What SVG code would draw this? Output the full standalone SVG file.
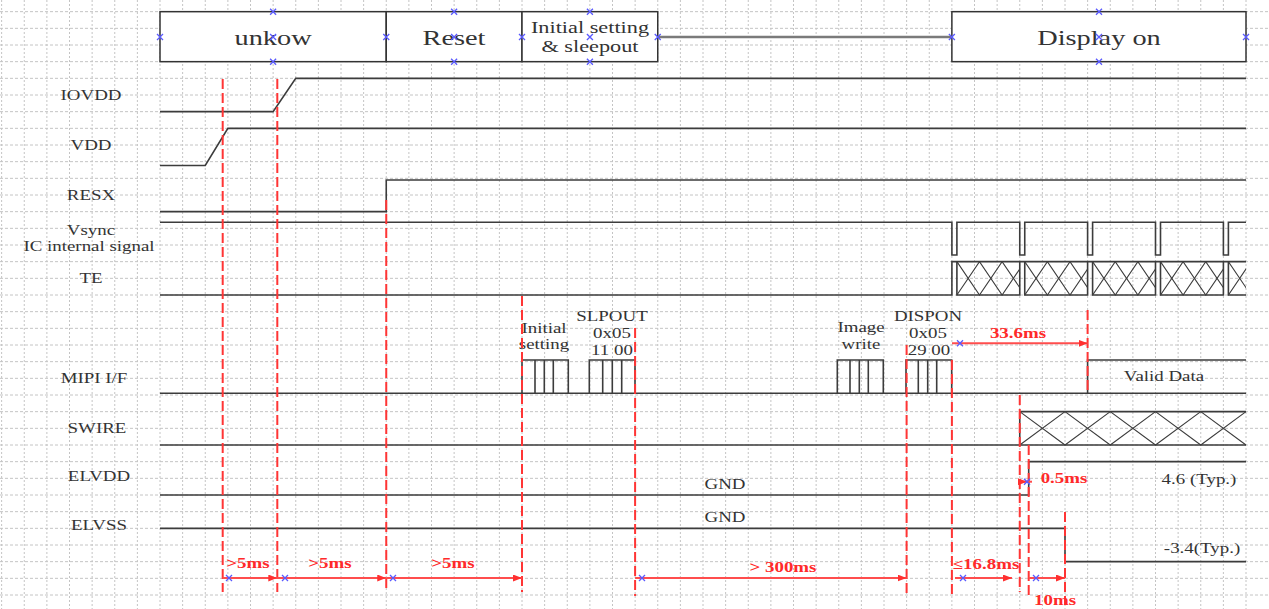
<svg xmlns="http://www.w3.org/2000/svg" width="1269" height="609" viewBox="0 0 1269 609">
<style>
.gh{fill:none;stroke:#c4c4c4;stroke-width:1;stroke-dasharray:3 2}
.gv{fill:none;stroke:#c4c4c4;stroke-width:1;stroke-dasharray:2 2}
.box{fill:#fff;stroke:#333;stroke-width:1.5}
.sig{fill:none;stroke:#3c3c3c;stroke-width:1.6}
.xp{fill:none;stroke:#3c3c3c;stroke-width:1.1}
.rd{fill:none;stroke:#ff3535;stroke-width:2;stroke-dasharray:10 4}
.dim{fill:none;stroke:#ff4d4d;stroke-width:2;marker-end:url(#ah)}
.t{font-family:"Liberation Serif","Times New Roman",serif;font-size:14px;fill:#333;text-anchor:middle}
.h{font-size:21px}
.hs{font-size:16.5px}
.r{fill:#ff2a2a;font-weight:bold}
.bx{fill:none;stroke:#5a5aff;stroke-width:1.3}
</style>
<defs>
<marker id="ah" markerWidth="9" markerHeight="7" refX="9" refY="3.5" orient="auto" markerUnits="userSpaceOnUse"><path d="M0 0L9 3.5L0 7z" fill="#ff3030"/></marker>
<path id="bm" d="M-3 -3L3 3M-3 3L3 -3"/>
<clipPath id="teclip"><rect x="956.9" y="261" width="62.9" height="35"/><rect x="1024.75" y="261" width="62.9" height="35"/><rect x="1092.6" y="261" width="62.9" height="35"/><rect x="1160.5" y="261" width="62.9" height="35"/><rect x="1228.4" y="261" width="17.6" height="35"/></clipPath>
</defs>
<rect width="1269" height="609" fill="#fff"/>
<g id="grid">
<path class="gh" d="M0 11.67H1269M0 28.33H1269M0 45H1269M0 61.67H1269M0 78.33H1269M0 95H1269M0 111.67H1269M0 128.33H1269M0 145H1269M0 161.67H1269M0 178.33H1269M0 195H1269M0 211.67H1269M0 228.33H1269M0 245H1269M0 261.67H1269M0 278.33H1269M0 295H1269M0 311.67H1269M0 328.33H1269M0 345H1269M0 361.67H1269M0 378.33H1269M0 395H1269M0 411.67H1269M0 428.33H1269M0 445H1269M0 461.67H1269M0 478.33H1269M0 495H1269M0 511.67H1269M0 528.33H1269M0 545H1269M0 561.67H1269M0 578.33H1269M0 595H1269"/>
<path class="gv" d="M1.63 0V609M24.25 0V609M46.88 0V609M69.5 0V609M92.13 0V609M114.75 0V609M137.38 0V609M160 0V609M182.63 0V609M205.25 0V609M227.88 0V609M250.5 0V609M273.13 0V609M295.75 0V609M318.38 0V609M341 0V609M363.63 0V609M386.25 0V609M408.88 0V609M431.5 0V609M454.13 0V609M476.75 0V609M499.38 0V609M522 0V609M544.63 0V609M567.25 0V609M589.88 0V609M612.5 0V609M635.13 0V609M657.75 0V609M680.38 0V609M703 0V609M725.63 0V609M748.25 0V609M770.88 0V609M793.5 0V609M816.13 0V609M838.75 0V609M861.38 0V609M884 0V609M906.63 0V609M929.25 0V609M951.88 0V609M974.5 0V609M997.13 0V609M1019.75 0V609M1042.38 0V609M1065 0V609M1087.63 0V609M1110.25 0V609M1132.88 0V609M1155.5 0V609M1178.13 0V609M1200.75 0V609M1223.38 0V609M1246 0V609"/>
</g>
<g id="connectors">
<line x1="657.75" y1="37" x2="951.88" y2="37" stroke="#7a7a7a" stroke-width="2.5"/>
</g>
<g id="phase-unkow"><rect class="box" x="160" y="11.67" width="226.25" height="50"/><text class="t h" transform="translate(273.1 45) scale(1.35 1)">unkow</text></g>
<g id="phase-reset"><rect class="box" x="386.25" y="11.67" width="135.75" height="50"/><text class="t h" transform="translate(454 45) scale(1.35 1)">Reset</text></g>
<g id="phase-init"><rect class="box" x="522" y="11.67" width="135.75" height="50"/><text class="t hs" transform="translate(590 33) scale(1.35 1)">Initial setting</text><text class="t hs" transform="translate(590 51.5) scale(1.35 1)">&amp; sleepout</text></g>
<g id="phase-display"><rect class="box" x="951.88" y="11.67" width="294.12" height="50"/><text class="t h" transform="translate(1099 45) scale(1.35 1)">Display on</text></g>

<g id="labels">
<text class="t" transform="translate(91 100) scale(1.35 1)">IOVDD</text>
<text class="t" transform="translate(91 150) scale(1.35 1)">VDD</text>
<text class="t" transform="translate(91 200) scale(1.35 1)">RESX</text>
<text class="t" transform="translate(91 235) scale(1.35 1)">Vsync</text>
<text class="t" transform="translate(89 251) scale(1.35 1)">IC internal signal</text>
<text class="t" transform="translate(91 283) scale(1.35 1)">TE</text>
<text class="t" transform="translate(94 383) scale(1.35 1)">MIPI I/F</text>
<text class="t" transform="translate(97 433) scale(1.35 1)">SWIRE</text>
<text class="t" transform="translate(99 481) scale(1.35 1)">ELVDD</text>
<text class="t" transform="translate(99 530) scale(1.35 1)">ELVSS</text>
</g>

<g id="sig-iovdd"><polyline class="sig" points="160,111.67 273.1,111.67 295.75,78.33 1246,78.33"/></g>
<g id="sig-vdd"><polyline class="sig" points="160,165.5 205.25,165.5 227.88,128.33 1246,128.33"/></g>
<g id="sig-resx"><polyline class="sig" points="160,211.67 386.25,211.67 386.25,180 1246,180"/></g>
<g id="sig-vsync"><polyline class="sig" points="160,222.3 951.9,222.3 951.9,255 956.9,255 956.9,222.3 1019.75,222.3 1019.75,255 1024.75,255 1024.75,222.3 1087.6,222.3 1087.6,255 1092.6,255 1092.6,222.3 1155.5,222.3 1155.5,255 1160.5,255 1160.5,222.3 1223.4,222.3 1223.4,255 1228.4,255 1228.4,222.3 1246,222.3"/></g>
<g id="sig-te">
<polyline class="sig" points="160,295 951.9,295 951.9,261.67 1246,261.67"/>
<path class="sig" d="M956.9 261.67V295H1019.75V261.67M1024.75 261.67V295H1087.6V261.67M1092.6 261.67V295H1155.5V261.67M1160.5 261.67V295H1223.4V261.67M1228.4 261.67V295H1246"/>
<g clip-path="url(#teclip)">
<polyline class="xp" points="956.9,261.67 979.5,295 1002.1,261.67 1024.75,295 1047.4,261.67 1070,295 1092.6,261.67 1115.25,295 1137.9,261.67 1160.5,295 1183.1,261.67 1205.75,295 1228.4,261.67 1251,295"/>
<polyline class="xp" points="956.9,295 979.5,261.67 1002.1,295 1024.75,261.67 1047.4,295 1070,261.67 1092.6,295 1115.25,261.67 1137.9,295 1160.5,261.67 1183.1,295 1205.75,261.67 1228.4,295 1251,261.67"/>
</g>
</g>
<g id="sig-mipi">
<line class="sig" x1="160" y1="393.3" x2="1246" y2="393.3"/>
<path class="sig" d="M522 393.3V360H568.3V393.3M535 360V393.3M544.3 360V393.3M553.3 360V393.3"/>
<path class="sig" d="M589.3 393.3V360H635V393.3M602.7 360V393.3M612.3 360V393.3M621.7 360V393.3"/>
<path class="sig" d="M837.3 393.3V360H883.3V393.3M850 360V393.3M859.3 360V393.3M868.3 360V393.3"/>
<path class="sig" d="M906 393.3V360H951.7V393.3M918.3 360V393.3M927.7 360V393.3M936.7 360V393.3"/>
<polyline class="sig" points="1087.6,393.3 1087.6,360 1246,360"/>
<text class="t" transform="translate(544 333) scale(1.35 1)">Initial</text>
<text class="t" transform="translate(544 349) scale(1.35 1)">setting</text>
<text class="t" transform="translate(612 321) scale(1.35 1)">SLPOUT</text>
<text class="t" transform="translate(612 338) scale(1.35 1)">0x05</text>
<text class="t" transform="translate(612 354.5) scale(1.35 1)">11 00</text>
<text class="t" transform="translate(861 332) scale(1.35 1)">Image</text>
<text class="t" transform="translate(861 349) scale(1.35 1)">write</text>
<text class="t" transform="translate(928 321) scale(1.35 1)">DISPON</text>
<text class="t" transform="translate(928 338) scale(1.35 1)">0x05</text>
<text class="t" transform="translate(929 354.5) scale(1.35 1)">29 00</text>
<text class="t" transform="translate(1164 381) scale(1.35 1)">Valid Data</text>
</g>
<g id="sig-swire">
<polyline class="sig" points="160,445 1019.75,445 1019.75,411.67 1246,411.67"/>
<line class="sig" x1="1019.75" y1="445" x2="1246" y2="445"/>
<polyline class="xp" points="1019.75,411.67 1065,445 1110.25,411.67 1155.5,445 1200.75,411.67 1246,445"/>
<polyline class="xp" points="1019.75,445 1065,411.67 1110.25,445 1155.5,411.67 1200.75,445 1246,411.67"/>
</g>
<g id="sig-elvdd">
<polyline class="sig" points="160,495 1028.7,495 1028.7,461.67 1246,461.67"/>
<text class="t" transform="translate(725 488.5) scale(1.35 1)">GND</text>
<text class="t" transform="translate(1199 483.5) scale(1.35 1)">4.6 (Typ.)</text>
</g>
<g id="sig-elvss">
<polyline class="sig" points="160,528.33 1065,528.33 1065,561.67 1246,561.67"/>
<text class="t" transform="translate(725 522) scale(1.35 1)">GND</text>
<text class="t" transform="translate(1202 552.5) scale(1.35 1)">-3.4(Typ.)</text>
</g>

<g id="timing-marks">
<line class="rd" x1="222.7" y1="79" x2="222.7" y2="592"/>
<line class="rd" x1="277.3" y1="79" x2="277.3" y2="592"/>
<line class="rd" x1="386.25" y1="200" x2="386.25" y2="590"/>
<line class="rd" x1="522" y1="296" x2="522" y2="592"/>
<line class="rd" x1="635.1" y1="328" x2="635.1" y2="596"/>
<line class="rd" x1="906.6" y1="345" x2="906.6" y2="593"/>
<line class="rd" x1="951.9" y1="360" x2="951.9" y2="595"/>
<line class="rd" x1="1019.75" y1="395" x2="1019.75" y2="592"/>
<line class="rd" x1="1028.7" y1="445" x2="1028.7" y2="597"/>
<line class="rd" x1="1065" y1="512" x2="1065" y2="605"/>
<line class="rd" x1="1087.6" y1="310" x2="1087.6" y2="393"/>
</g>
<g id="dimensions">
<line class="dim" x1="222.7" y1="578" x2="277.3" y2="578"/>
<line class="dim" x1="277.3" y1="578" x2="386.25" y2="578"/>
<line class="dim" x1="386.25" y1="578" x2="522" y2="578"/>
<line class="dim" x1="635.1" y1="578" x2="906.6" y2="578"/>
<line class="dim" x1="955" y1="578" x2="1012" y2="578"/>
<line class="dim" x1="1028.7" y1="578" x2="1065" y2="578"/>
<line class="dim" x1="952" y1="343.3" x2="1087.6" y2="343.3"/>
<line class="dim" x1="1019.75" y1="481.7" x2="1027" y2="481.7"/>
<line x1="1027" y1="481.7" x2="1032" y2="481.7" stroke="#ff4d4d" stroke-width="2"/>
<text class="t r" transform="translate(248 568) scale(1.35 1)">&gt;5ms</text>
<text class="t r" transform="translate(330 568) scale(1.35 1)">&gt;5ms</text>
<text class="t r" transform="translate(453 568) scale(1.35 1)">&gt;5ms</text>
<text class="t r" transform="translate(783 571.5) scale(1.35 1)">&gt; 300ms</text>
<text class="t r" transform="translate(986 569) scale(1.35 1)">≤16.8ms</text>
<text class="t r" transform="translate(1055 605) scale(1.35 1)">10ms</text>
<text class="t r" transform="translate(1064 483) scale(1.35 1)">0.5ms</text>
<text class="t r" transform="translate(1018 338) scale(1.35 1)">33.6ms</text>
</g>
<g id="handles" class="bx">
<use href="#bm" x="273.1" y="11.67"/><use href="#bm" x="160" y="37"/><use href="#bm" x="273.1" y="37"/><use href="#bm" x="273.1" y="61.67"/><use href="#bm" x="386.25" y="37"/>
<use href="#bm" x="454.1" y="11.67"/><use href="#bm" x="454.1" y="37"/><use href="#bm" x="454.1" y="61.67"/><use href="#bm" x="522" y="37"/>
<use href="#bm" x="589.9" y="11.67"/><use href="#bm" x="589.9" y="37"/><use href="#bm" x="589.9" y="61.67"/><use href="#bm" x="657.75" y="37"/>
<use href="#bm" x="951.88" y="37"/><use href="#bm" x="1099" y="11.67"/><use href="#bm" x="1099" y="37"/><use href="#bm" x="1099" y="61.67"/><use href="#bm" x="1246" y="37"/>
<use href="#bm" x="229" y="578"/><use href="#bm" x="285" y="578"/><use href="#bm" x="393" y="578"/><use href="#bm" x="642" y="578"/><use href="#bm" x="963" y="578"/><use href="#bm" x="1036" y="578"/><use href="#bm" x="960" y="343.3"/><use href="#bm" x="1027" y="481.7"/>
</g>
</svg>
